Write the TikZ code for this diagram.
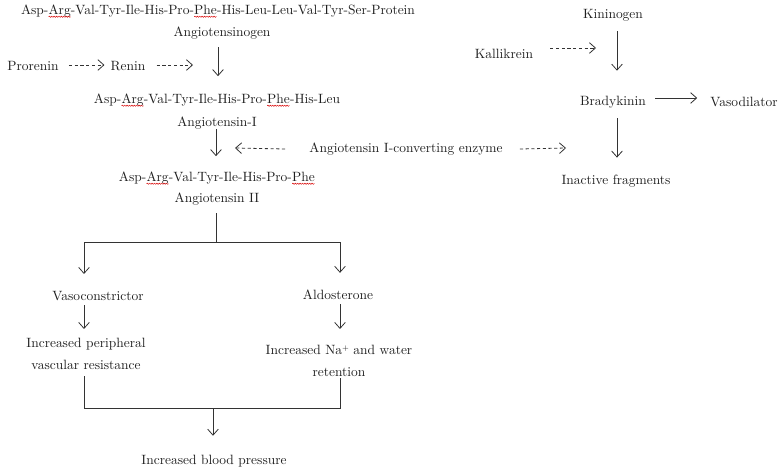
\documentclass[tikz,border=0pt]{standalone}
\usetikzlibrary{arrows.meta,calc,decorations.pathmorphing}
\newcommand\redwave[1]{\tikz[baseline=(w.base),x=1pt,y=1pt]{\node[inner sep=0pt,outer sep=0pt](w){#1};\draw[red!85!black,line width=0.35pt,decorate,decoration={snake,amplitude=0.45pt,segment length=1.8pt}] ([yshift=-2pt]w.base west) -- ([yshift=-2pt]w.base east);}}
\begin{document}
\begin{tikzpicture}[x=0.75pt,y=-0.75pt,
  lbl/.style={font=\fontsize{10.1}{16.5}\selectfont, inner sep=0pt, text=black!88, align=center},
  arr/.style={-{Straight Barb[length=4.5pt,width=8pt]}, line width=0.6pt, draw=black!80},
  darr/.style={arr, dash pattern=on 2.4pt off 1.9pt},
  ln/.style={line width=0.6pt, draw=black!80}]
\useasboundingbox (0,0) rectangle (783,475);

% left column
\node[lbl] (seq1) at (218,11) {Asp-\redwave{Arg}-Val-Tyr-Ile-His-Pro-\redwave{Phe}-His-Leu-Leu-Val-Tyr-Ser-Protein};
\node[lbl] (ago) at (222,33) {Angiotensinogen};
\node[lbl] (pro) at (33,66) {Prorenin};
\node[lbl] (ren) at (128,66) {Renin};
\node[lbl] (seq2) at (217,100) {Asp-\redwave{Arg}-Val-Tyr-Ile-His-Pro-\redwave{Phe}-His-Leu};
\node[lbl] (at1) at (217,123) {Angiotensin-I};
\node[lbl] (ace) at (406,149) {Angiotensin I-converting enzyme};
\node[lbl] (seq3) at (217,178) {Asp-\redwave{Arg}-Val-Tyr-Ile-His-Pro-\redwave{Phe}};
\node[lbl] (at2) at (217,199) {Angiotensin II};
\node[lbl] (vaso) at (98,296) {Vasoconstrictor};
\node[lbl] (ald) at (338,295) {Aldosterone};
\node[lbl] (ipr) at (86,354) {Increased peripheral\\vascular resistance};
\node[lbl] (ina) at (339,361) {Increased Na{\raisebox{0.75ex}{\fontsize{5.5}{6}\selectfont +}} and water\\retention};
\node[lbl] (ibp) at (214,461) {Increased blood pressure};

% right column
\node[lbl] (kin) at (613,15) {Kininogen};
\node[lbl] (kal) at (504,54) {Kallikrein};
\node[lbl] (bra) at (613,102) {Bradykinin};
\node[lbl] (vdl) at (744,102) {Vasodilator};
\node[lbl] (ifr) at (616,181) {Inactive fragments};

% helper coordinates
\coordinate (ax) at (218,0);
\coordinate (rhit) at (193,66);
\coordinate (acel) at (235,148);
\coordinate (acer) at (566,148);
\coordinate (kalh) at (596,48);
\coordinate (jt) at (216,242);
\coordinate (jl) at (84,242);
\coordinate (jr) at (340,242);
\coordinate (bl) at (84,408);
\coordinate (br) at (340,408);
\coordinate (bm) at (213,408);
\coordinate (kx) at (617,0);

% angiotensin chain
\draw[arr] ($(ago.south -| ax)+(0,8)$) -- ($(seq2.north -| ax)+(0,-17)$);
\draw[darr] ($(pro.east)+(10,-1)$) -- ($(ren.west)+(-6,-1)$);
\draw[darr] ($(ren.east)+(11,-1)$) -- ($(rhit)+(0,-1)$);
\draw[arr] ($(at1.south)+(-1,0)$) -- ($(seq3.north)+(-1,-15)$);
\draw[darr] ($(ace.west)+(-24,0)$) -- (acel);
\draw[darr] ($(ace.east)+(17,0)$) -- (acer);

% branch
\draw[ln] ($(at2.south)+(-1,8)$) -- (jt);
\draw[ln] (jl) -- (jr);
\draw[arr] (jl) -- ($(jl |- vaso.north)+(0,-17)$);
\draw[arr] (jr) -- ($(jr |- ald.north)+(0,-17)$);
\draw[arr] ($(vaso.south -| jl)+(0,4)$) -- ($(ipr.north -| jl)+(0,-9)$);
\draw[arr] ($(ald.south -| jr)+(0,4)$) -- ($(ina.north -| jr)+(0,-16)$);
\draw[ln] ($(ipr.south -| bl)+(0,6)$) -- (bl) -- (br) -- ($(ina.south -| br)+(0,1)$);
\draw[arr] (bm) -- ($(ibp.north -| bm)+(0,-19)$);

% kinin chain
\draw[arr] ($(kin.south -| kx)+(0,10)$) -- ($(bra.north -| kx)+(0,-25)$);
\draw[darr] ($(kal.east)+(17,-6)$) -- (kalh);
\draw[arr] ($(bra.east)+(9,-4)$) -- ($(vdl.west)+(-13,-4)$);
\draw[arr] ($(bra.south -| kx)+(0,10)$) -- ($(ifr.north -| kx)+(0,-17)$);
\end{tikzpicture}
\end{document}
